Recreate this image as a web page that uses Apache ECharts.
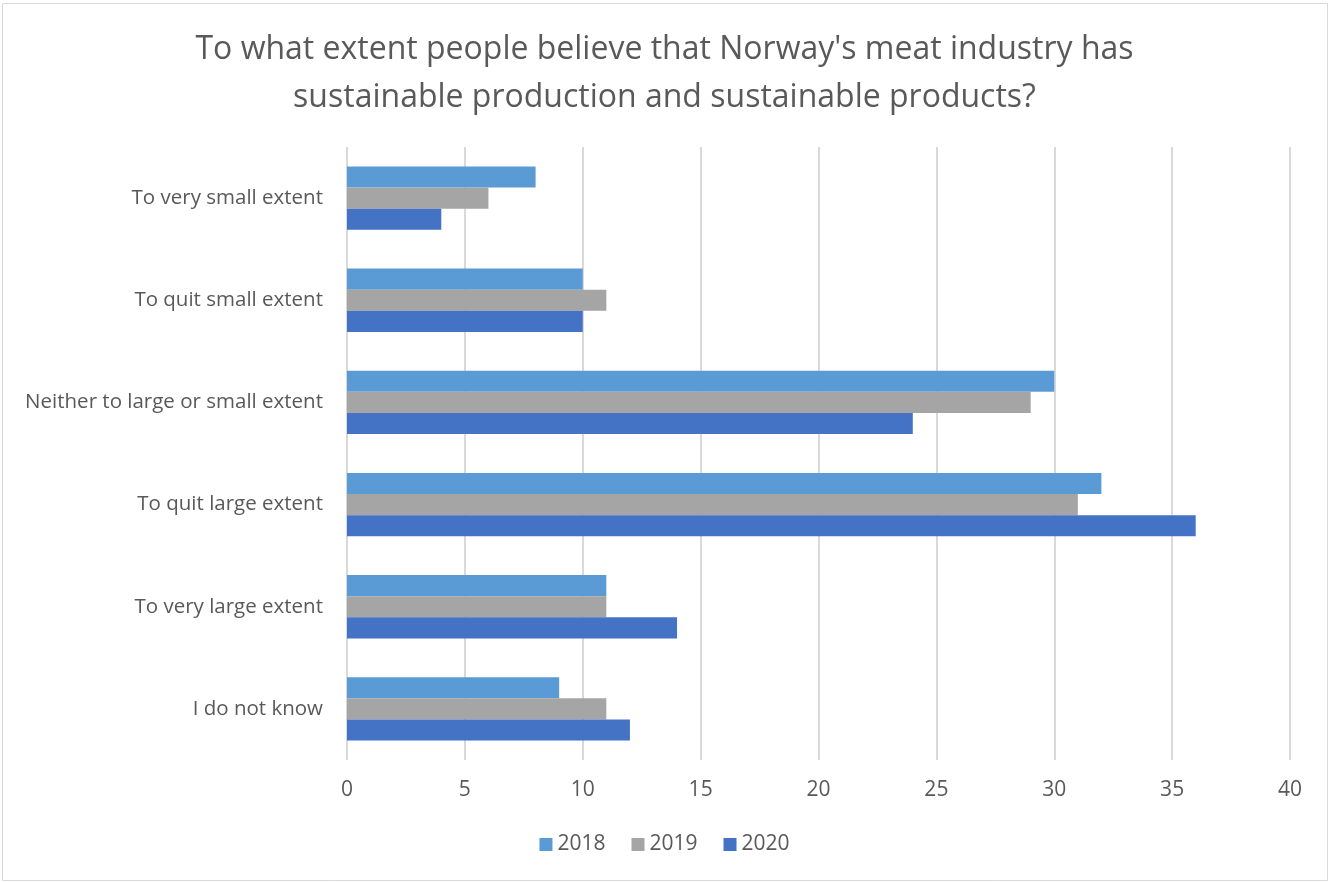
<!DOCTYPE html>
<html><head><meta charset="utf-8">
<script src="https://cdn.jsdelivr.net/npm/echarts@6/dist/echarts.min.js"></script>
<style>html,body{margin:0;padding:0;background:#fff}#c{width:1329px;height:882px}</style>
</head><body><div id="c"></div>
<script>
const titleText = "To what extent people believe that Norway's meat industry has\nsustainable production and sustainable products?";
const categories = ["To very small extent","To quit small extent","Neither to large or small extent","To quit large extent","To very large extent","I do not know"];
const seriesNames = ["2018","2019","2020"];
const values2018 = [8,10,30,32,11,9];
const values2019 = [6,11,29,31,11,11];
const values2020 = [4,10,24,36,14,12];
const colors = ["#5B9BD5","#A5A5A5","#4472C4"];
const font = "'Open Sans', 'Noto Sans', sans-serif";
const chart = echarts.init(document.getElementById('c'), null, {renderer:'canvas'});
const dataSets = [values2018, values2019, values2020];
chart.setOption({
  animation:false,
  backgroundColor:'#fff',
  title:{text:titleText,left:'center',top:21,textStyle:{fontFamily:font,fontSize:32,fontWeight:'normal',color:'#595959',lineHeight:48}},
  graphic:[{type:'rect',shape:{x:2.5,y:3.5,width:1325,height:877},style:{fill:'none',stroke:'#d9d9d9',lineWidth:1},silent:true}],
  legend:{bottom:22,left:'center',itemWidth:13,itemHeight:13,itemGap:26,icon:'rect',textStyle:{fontFamily:font,fontSize:21,color:'#595959'},data:seriesNames},
  grid:{left:347,right:39,top:147,bottom:122,containLabel:false},
  xAxis:{type:'value',min:0,max:40,interval:5,axisLine:{show:false},axisTick:{show:false},
    splitLine:{lineStyle:{color:'#d9d9d9',width:2}},
    axisLabel:{fontFamily:font,fontSize:21,color:'#595959',margin:20}},
  yAxis:{type:'category',inverse:true,data:categories,axisLine:{show:false},axisTick:{show:false},
    axisLabel:{fontFamily:font,fontSize:20.5,color:'#595959',margin:24}},
  series: seriesNames.map((n,i)=>({name:n,type:'bar',data:dataSets[i],barGap:'0%',barCategoryGap:'38%',itemStyle:{color:colors[i]}}))
});
</script></body></html>
